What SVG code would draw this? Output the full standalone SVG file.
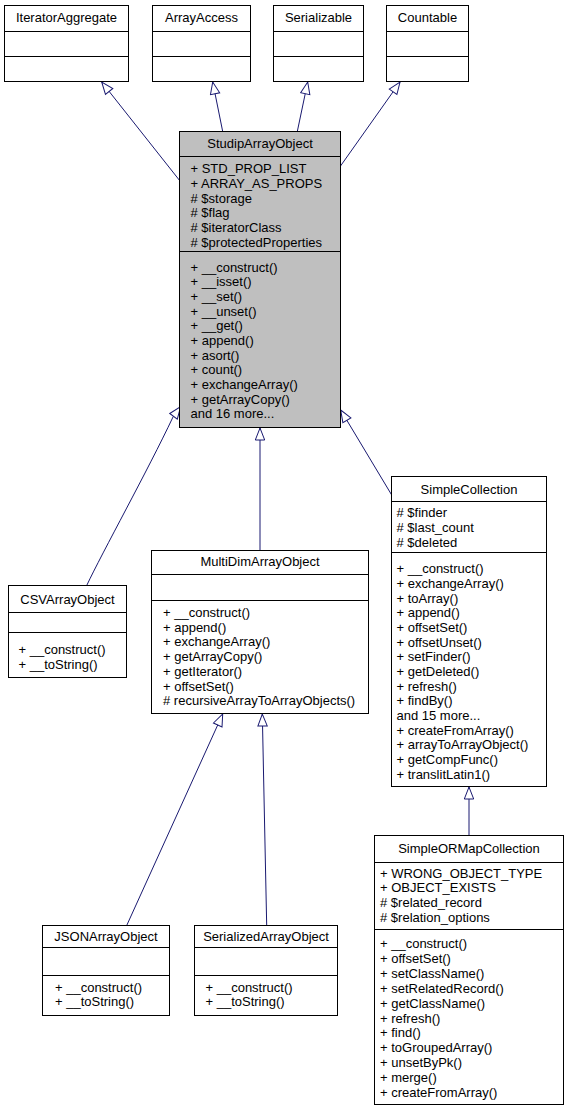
<svg xmlns="http://www.w3.org/2000/svg" width="569" height="1109" viewBox="0 0 569 1109">
<style>
  .box { fill: #ffffff; stroke: #000000; stroke-width: 1; }
  .grey { fill: #bfbfbf; }
  .div { stroke: #000000; stroke-width: 1; }
  text { font-family: "Liberation Sans", Arial, Helvetica, sans-serif; font-size: 13px; fill: #000000; }
  .t { text-anchor: middle; }
  .edge { fill: none; stroke: #191970; stroke-width: 1; marker-end: url(#arr); }
</style>
<defs>
  <marker id="arr" markerUnits="userSpaceOnUse" viewBox="-1 -1 15 12" markerWidth="15" markerHeight="12" refX="12" refY="4.7" orient="auto">
    <path d="M0,0 L12,4.7 L0,9.4 Z" fill="#ffffff" stroke="#191970" stroke-width="1"/>
  </marker>
</defs>
<rect width="569" height="1109" fill="#ffffff"/>

<g id="connectors">
  <path class="edge" d="M180,181 L101.7,82"/>
  <path class="edge" d="M222.7,131.5 L212.7,82"/>
  <path class="edge" d="M297.3,131.5 L307.7,82"/>
  <path class="edge" d="M340.5,166 L400,82"/>
  <path class="edge" d="M86.7,585.5 C102,553 148,470 173,417 L180.7,406.7"/>
  <path class="edge" d="M260,550.5 L260,428"/>
  <path class="edge" d="M391.7,495 L340.7,410"/>
  <path class="edge" d="M126.7,925.5 L222.7,714"/>
  <path class="edge" d="M266.7,925.5 L262.3,714"/>
  <path class="edge" d="M469,835.5 L469,787"/>
</g>

<g id="IteratorAggregate">
  <rect class="box" x="4.5" y="5.5" width="124" height="76"/>
  <line class="div" x1="4.5" y1="31.5" x2="128.5" y2="31.5"/>
  <line class="div" x1="4.5" y1="56.5" x2="128.5" y2="56.5"/>
  <text class="t" x="66.5" y="22">IteratorAggregate</text>
</g>
<g id="ArrayAccess">
  <rect class="box" x="152.5" y="5.5" width="98" height="76"/>
  <line class="div" x1="152.5" y1="31.5" x2="250.5" y2="31.5"/>
  <line class="div" x1="152.5" y1="56.5" x2="250.5" y2="56.5"/>
  <text class="t" x="201.5" y="22">ArrayAccess</text>
</g>
<g id="Serializable">
  <rect class="box" x="273.5" y="5.5" width="90" height="76"/>
  <line class="div" x1="273.5" y1="31.5" x2="363.5" y2="31.5"/>
  <line class="div" x1="273.5" y1="56.5" x2="363.5" y2="56.5"/>
  <text class="t" x="318.5" y="22">Serializable</text>
</g>
<g id="Countable">
  <rect class="box" x="386.5" y="5.5" width="82" height="76"/>
  <line class="div" x1="386.5" y1="31.5" x2="468.5" y2="31.5"/>
  <line class="div" x1="386.5" y1="56.5" x2="468.5" y2="56.5"/>
  <text class="t" x="427.5" y="22">Countable</text>
</g>

<g id="StudipArrayObject">
  <rect class="box grey" x="179.5" y="131.5" width="161" height="296"/>
  <line class="div" x1="179.5" y1="156.5" x2="340.5" y2="156.5"/>
  <line class="div" x1="179.5" y1="251.5" x2="340.5" y2="251.5"/>
  <text class="t" x="260" y="147.5">StudipArrayObject</text>
  <text x="190.5" y="173.3">+ STD_PROP_LIST</text>
  <text x="190.5" y="188">+ ARRAY_AS_PROPS</text>
  <text x="190.5" y="202.6"># $storage</text>
  <text x="190.5" y="217.3"># $flag</text>
  <text x="190.5" y="232"># $iteratorClass</text>
  <text x="190.5" y="246.6"># $protectedProperties</text>
  <text x="190.5" y="271.7">+ __construct()</text>
  <text x="190.5" y="286.4">+ __isset()</text>
  <text x="190.5" y="301">+ __set()</text>
  <text x="190.5" y="315.7">+ __unset()</text>
  <text x="190.5" y="330.4">+ __get()</text>
  <text x="190.5" y="345">+ append()</text>
  <text x="190.5" y="359.7">+ asort()</text>
  <text x="190.5" y="374.4">+ count()</text>
  <text x="190.5" y="389">+ exchangeArray()</text>
  <text x="190.5" y="403.7">+ getArrayCopy()</text>
  <text x="190.5" y="418.4">and 16 more...</text>
</g>

<g id="SimpleCollection">
  <rect class="box" x="391.5" y="476.5" width="155" height="310"/>
  <line class="div" x1="391.5" y1="501.5" x2="546.5" y2="501.5"/>
  <line class="div" x1="391.5" y1="552.5" x2="546.5" y2="552.5"/>
  <text class="t" x="469" y="493.5">SimpleCollection</text>
  <text x="396.5" y="517.3"># $finder</text>
  <text x="396.5" y="532"># $last_count</text>
  <text x="396.5" y="546.7"># $deleted</text>
  <text x="396.5" y="573.3">+ __construct()</text>
  <text x="396.5" y="588">+ exchangeArray()</text>
  <text x="396.5" y="602.6">+ toArray()</text>
  <text x="396.5" y="617.3">+ append()</text>
  <text x="396.5" y="632">+ offsetSet()</text>
  <text x="396.5" y="646.7">+ offsetUnset()</text>
  <text x="396.5" y="661.3">+ setFinder()</text>
  <text x="396.5" y="676">+ getDeleted()</text>
  <text x="396.5" y="690.7">+ refresh()</text>
  <text x="396.5" y="705.3">+ findBy()</text>
  <text x="396.5" y="720">and 15 more...</text>
  <text x="396.5" y="734.7">+ createFromArray()</text>
  <text x="396.5" y="749.3">+ arrayToArrayObject()</text>
  <text x="396.5" y="764">+ getCompFunc()</text>
  <text x="396.5" y="778.7">+ translitLatin1()</text>
</g>

<g id="MultiDimArrayObject">
  <rect class="box" x="151.5" y="550.5" width="217" height="163"/>
  <line class="div" x1="151.5" y1="574.5" x2="368.5" y2="574.5"/>
  <line class="div" x1="151.5" y1="600.5" x2="368.5" y2="600.5"/>
  <text class="t" x="260" y="566">MultiDimArrayObject</text>
  <text x="163" y="616.7">+ __construct()</text>
  <text x="163" y="631.5">+ append()</text>
  <text x="163" y="646.3">+ exchangeArray()</text>
  <text x="163" y="661">+ getArrayCopy()</text>
  <text x="163" y="675.8">+ getIterator()</text>
  <text x="163" y="690.6">+ offsetSet()</text>
  <text x="163" y="705.4"># recursiveArrayToArrayObjects()</text>
</g>

<g id="CSVArrayObject">
  <rect class="box" x="8.5" y="585.5" width="118" height="92"/>
  <line class="div" x1="8.5" y1="612.5" x2="126.5" y2="612.5"/>
  <line class="div" x1="8.5" y1="632.5" x2="126.5" y2="632.5"/>
  <text class="t" x="67.5" y="603.5">CSVArrayObject</text>
  <text x="18.5" y="654">+ __construct()</text>
  <text x="18.5" y="668.5">+ __toString()</text>
</g>

<g id="JSONArrayObject">
  <rect class="box" x="42.5" y="925.5" width="127" height="90"/>
  <line class="div" x1="42.5" y1="947.5" x2="169.5" y2="947.5"/>
  <line class="div" x1="42.5" y1="975.5" x2="169.5" y2="975.5"/>
  <text class="t" x="106" y="940.5">JSONArrayObject</text>
  <text x="55" y="991.5">+ __construct()</text>
  <text x="55" y="1006">+ __toString()</text>
</g>

<g id="SerializedArrayObject">
  <rect class="box" x="194.5" y="925.5" width="143" height="90"/>
  <line class="div" x1="194.5" y1="947.5" x2="337.5" y2="947.5"/>
  <line class="div" x1="194.5" y1="975.5" x2="337.5" y2="975.5"/>
  <text class="t" x="266" y="940.5">SerializedArrayObject</text>
  <text x="205.5" y="991.5">+ __construct()</text>
  <text x="205.5" y="1006">+ __toString()</text>
</g>

<g id="SimpleORMapCollection">
  <rect class="box" x="374.5" y="835.5" width="189" height="269"/>
  <line class="div" x1="374.5" y1="862.5" x2="563.5" y2="862.5"/>
  <line class="div" x1="374.5" y1="929.5" x2="563.5" y2="929.5"/>
  <text class="t" x="469" y="853">SimpleORMapCollection</text>
  <text x="380" y="877.7">+ WRONG_OBJECT_TYPE</text>
  <text x="380" y="892.4">+ OBJECT_EXISTS</text>
  <text x="380" y="907"># $related_record</text>
  <text x="380" y="921.7"># $relation_options</text>
  <text x="380" y="948.3">+ __construct()</text>
  <text x="380" y="963.1">+ offsetSet()</text>
  <text x="380" y="978">+ setClassName()</text>
  <text x="380" y="992.8">+ setRelatedRecord()</text>
  <text x="380" y="1007.7">+ getClassName()</text>
  <text x="380" y="1022.5">+ refresh()</text>
  <text x="380" y="1037.3">+ find()</text>
  <text x="380" y="1052.2">+ toGroupedArray()</text>
  <text x="380" y="1067">+ unsetByPk()</text>
  <text x="380" y="1081.9">+ merge()</text>
  <text x="380" y="1096.7">+ createFromArray()</text>
</g>
</svg>
